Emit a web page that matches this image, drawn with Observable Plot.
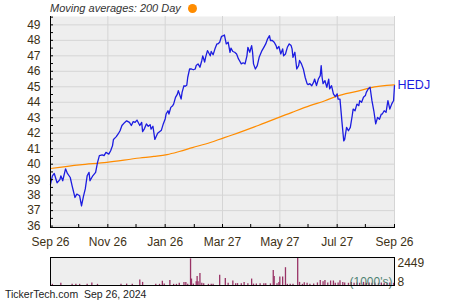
<!DOCTYPE html>
<html><head><meta charset="utf-8">
<script src="https://cdn.jsdelivr.net/npm/d3@7"></script>
<script src="https://cdn.jsdelivr.net/npm/@observablehq/plot@0.6"></script>
<style>
body{margin:0;background:#fff;}
#wrap{position:relative;width:450px;height:300px;overflow:hidden;font-family:"Liberation Sans",Arial,sans-serif;}
#title{position:absolute;left:50px;top:1px;font-size:11px;font-style:italic;color:#333;line-height:14px;white-space:nowrap;}
#dot{display:inline-block;width:9px;height:9px;border-radius:50%;background:#ff8c00;margin-left:7px;vertical-align:-1px;}
#main{position:absolute;left:0;top:0;}
#vol{position:absolute;left:0;top:250px;}
#foot{position:absolute;left:5px;top:288px;font-size:10.5px;line-height:12px;color:#222;white-space:nowrap;}
</style>
</head><body>
<div id="wrap">
  <div id="main"></div>
  <div id="vol"></div>
  <div id="title">Moving averages: 200 Day<span id="dot"></span></div>
  <div id="foot">TickerTech.com&nbsp; Sep 26, 2024</div>
</div>
<script>
const startDate = "2023-09-26";
const endDate = "2024-09-26";
const ticker = "HEDJ";

const priceDays = [
0,2,4,7,10,11,13,16,18,21,
23,26,28,31,33,35,37,39,41,42,
45,48,50,52,55,57,59,62,64,66,
67,70,72,74,76,79,81,84,86,88,
90,92,95,97,98,100,102,104,106,107,
109,111,114,118,120,122,123,125,126,128,
130,131,133,135,136,139,140,142,143,145,
146,148,150,152,154,155,157,159,161,162,
164,165,167,168,170,171,173,175,177,178,
180,182,184,185,187,189,191,192,194,196,
198,200,201,203,205,207,209,210,212,214,
215,216,218,220,222,225,227,229,231,233,
234,236,238,240,241,243,245,247,248,250,
252,254,256,257,258,260,262,264,265,267,
269,271,273,274,276,278,280,281,283,285,
287,288,289,290,292,294,296,297,299,301,
303,305,306,308,310,312,313,315,317,319,
321,322,324,326,328,329,331,333,335,336,
338,340,342,344,346,348,350,352,353,355,
357,359,361,363,364,365,366];
const priceValues = [
38.7,39.25,39.4,38.8,39.0,39.25,38.93,39.7,39.4,39.14,
38.6,37.85,38.07,37.96,37.3,37.9,38.4,39.25,39.47,38.93,
39.25,39.47,40.1,40.55,40.6,40.55,40.76,40.65,40.87,41.2,
41.6,41.78,41.95,42.16,42.5,42.7,42.8,42.7,42.5,42.75,
42.7,42.85,42.5,42.7,42.1,42.3,42.6,42.45,42.55,42.27,
42.45,41.6,42.0,42.2,42.6,42.92,43.24,43.45,43.24,43.67,
43.78,43.88,44.32,44.53,44.75,44.21,44.64,45.07,45.03,45.1,
45.6,46.15,46.15,46.1,46.15,46.37,46.48,46.26,46.7,47.0,
46.6,46.9,47.34,47.23,47.0,47.28,47.07,47.45,47.77,47.77,
47.88,48.26,48.3,48.35,47.77,47.88,47.23,47.5,47.28,47.23,
47.12,46.8,46.7,46.48,46.55,46.48,47.0,47.55,47.23,47.66,
47.23,46.48,46.15,46.37,46.9,47.34,47.55,47.77,48.1,48.3,
47.99,47.99,47.88,47.66,47.45,47.6,47.12,47.45,47.0,47.12,
47.55,47.77,47.66,47.45,46.9,47.23,46.15,46.37,46.7,46.48,
46.15,45.6,45.2,45.14,45.2,45.07,45.3,45.5,45.07,45.5,
45.72,46.37,45.6,45.2,45.4,44.97,45.5,44.86,45.07,44.54,
44.36,44.54,44.2,44.2,42.8,41.5,41.6,42.38,42.16,42.38,
43.13,43.56,43.45,43.88,43.78,44.1,44.0,44.32,44.43,44.64,
44.86,44.97,44.1,43.45,42.6,43.02,42.9,43.24,43.24,43.45,
43.35,44.1,43.56,43.88,44.0,44.1,45.07];

const maDays   = [0,31,60,95,110,124,137,151,170,185,194,221,257,276,292,305,327,340,366];
const maValues = [39.72,39.95,40.12,40.4,40.5,40.62,40.82,41.07,41.4,41.72,41.9,42.5,43.35,43.78,44.1,44.4,44.72,44.93,45.12];

const volDays = [2,11,23,27,31,39,44,50,75,81,
87,95,98,112,116,119,121,127,131,134,
137,142,144,146,149,150,152,155,156,157,
159,161,163,168,171,173,180,186,189,194,
197,199,203,206,210,214,216,219,223,227,
229,234,237,238,241,243,244,247,250,252,
255,258,263,265,268,270,273,276,280,284,
287,290,292,295,298,301,303,306,308,311,
313,317,320,323,326,329,333,336,339,342,
345,349,352,355,358,361,365];
const volValues = [110,200,110,110,110,110,230,110,110,130,
110,485,280,110,110,370,130,450,110,110,
200,280,280,110,2330,570,130,340,800,340,
1050,200,150,110,110,110,900,620,200,400,
170,170,150,280,150,570,130,130,150,150,
150,150,1310,800,170,280,740,740,1560,110,
110,110,2449,280,110,250,200,110,130,230,
450,340,450,230,400,400,200,230,420,280,
230,200,280,200,230,200,280,200,230,200,
230,200,230,200,200,230,200];
const volMin = 8, volMax = 2449;
const volUnit = "(1000's)";

const yDomain = [35.91, 49.54];
const yMajor = [36,37,38,39,40,41,42,43,44,45,46,47,48,49];
const yHalf = [36,36.5,37,37.5,38,38.5,39,39.5,40,40.5,41,41.5,42,42.5,43,43.5,44,44.5,45,45.5,46,46.5,47,47.5,48,48.5,49,49.5];
const xMajorDates = ["2023-09-26","2023-11-26","2024-01-26","2024-03-27","2024-05-27","2024-07-27","2024-09-26"];
const xMajorLabels = ["Sep 26","Nov 26","Jan 26","Mar 27","May 27","Jul 27","Sep 26"];
const xMinorDates = ["2023-10-26","2023-12-26","2024-02-26","2024-04-26","2024-06-26","2024-08-26"];

const DAY = 864e5;
const t0 = new Date(startDate);
const toDate = d => new Date(+t0 + d * DAY);
const price = priceDays.map((d, i) => ({date: toDate(d), v: priceValues[i]}));
const ma = maDays.map((d, i) => ({date: toDate(d), v: maValues[i]}));
const vol = volDays.map((d, i) => ({date: toDate(d), v: volValues[i]}));
const majors = xMajorDates.map(s => new Date(s));
const allTicks = majors.concat(xMinorDates.map(s => new Date(s)));
const labelMap = new Map(majors.map((d, i) => [+d, xMajorLabels[i]]));
const xDomain = [new Date(startDate), new Date(endDate)];

const labelColor = "#3d3115";
const blue = "#1c1ce0";
const font = '"Liberation Sans", Arial, sans-serif';

const main = Plot.plot({
  width: 450, height: 250,
  marginTop: 16, marginLeft: 50, marginRight: 56, marginBottom: 23,
  style: {background: "transparent", fontFamily: font, fontSize: "12px", overflow: "visible"},
  x: {type: "utc", domain: xDomain},
  y: {domain: yDomain},
  marks: [
    Plot.frame({fill: "#eeeeee", stroke: null}),
    Plot.gridY(yMajor, {stroke: "#d5d5d5", strokeOpacity: 1}),
    Plot.gridX(majors, {stroke: "#d5d5d5", strokeOpacity: 1}),
    Plot.frame({anchor: "right", stroke: "#d5d5d5"}),
    Plot.line(ma, {x: "date", y: "v", stroke: "#ff8c00", strokeWidth: 1.2, curve: "monotone-x"}),
    Plot.line(price, {x: "date", y: "v", stroke: blue, strokeWidth: 1.3}),
    Plot.frame({anchor: "left", stroke: "#000"}),
    Plot.frame({anchor: "bottom", stroke: "#000"}),
    Plot.axisY(yHalf, {tickSize: -3, fill: "none", stroke: "#000", label: null}),
    Plot.axisY(yMajor, {tickSize: 0, tickPadding: 10, tickFormat: d => String(d), fill: labelColor, fontSize: 12, label: null}),
    Plot.axisX(allTicks, {tickSize: -3, fill: "none", stroke: "#000", label: null}),
    Plot.axisX(majors, {tickSize: 0, tickPadding: 10, tickFormat: d => labelMap.get(+d), fill: labelColor, fontSize: 12, label: null}),
    Plot.text([price[price.length - 1]], {x: "date", y: "v", text: () => ticker, dx: 3, dy: -1, textAnchor: "start", fill: blue, fontSize: 12.5})
  ]
});
document.getElementById("main").appendChild(main);

const volPlot = Plot.plot({
  width: 450, height: 40,
  marginTop: 7, marginLeft: 50, marginRight: 56, marginBottom: 5,
  style: {background: "transparent", fontFamily: font, fontSize: "12px", overflow: "visible"},
  x: {type: "utc", domain: xDomain, axis: null},
  y: {domain: [volMin, volMax], axis: null},
  marks: [
    Plot.frame({fill: "#eeeeee", stroke: null}),
    Plot.ruleX(vol, {x: "date", y1: volMin, y2: "v", stroke: "#993366", strokeWidth: 1.3}),
    Plot.text([volUnit], {frameAnchor: "bottom-right", text: d => d, textAnchor: "end", lineAnchor: "middle", dx: -2, dy: -3.5, fill: "#4f8272", fontSize: 12}),
    Plot.frame({stroke: "#000"}),
    Plot.text([String(volMax)], {frameAnchor: "top-right", text: d => d, textAnchor: "start", lineAnchor: "middle", dx: 3, dy: 5.7, fill: labelColor, fontSize: 12}),
    Plot.text([String(volMin)], {frameAnchor: "bottom-right", text: d => d, textAnchor: "start", lineAnchor: "middle", dx: 3, dy: -3.5, fill: labelColor, fontSize: 12})
  ]
});
document.getElementById("vol").appendChild(volPlot);
</script>
</body></html>
